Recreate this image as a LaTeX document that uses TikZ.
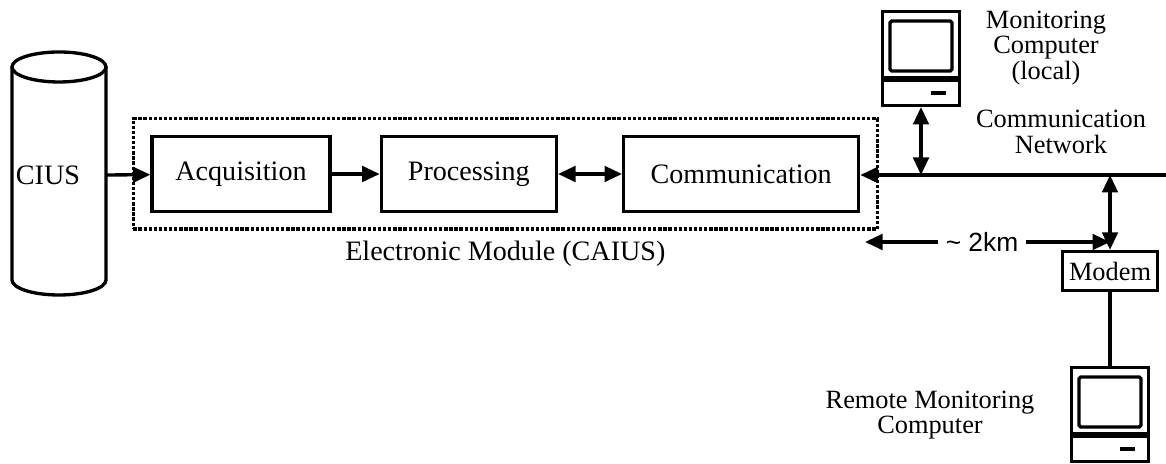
\documentclass[tikz,border=0pt]{standalone}
\usepackage{fontspec}
\setmainfont{Liberation Serif}
\setsansfont{Liberation Sans}
\usetikzlibrary{arrows.meta,positioning,fit}

% small desktop computer, origin at the bottom centre of the base
\tikzset{
  pics/computer/.style={code={
    \node[draw, minimum width=1.54cm, minimum height=0.5cm, inner sep=0pt, anchor=south] (-base) at (0,0) {};
    \draw (0.2,0.28) -- (0.5,0.28);
    \node[draw, minimum width=1.54cm, minimum height=1.32cm, inner sep=0pt, anchor=south] (-mon) at (0,0.56) {};
    \draw[rounded corners=1pt] (-0.62,0.72) rectangle (0.62,1.72);
  }}
}

\begin{document}
\begin{tikzpicture}[>={Triangle[length=3.5mm,width=3.1mm]}, line width=1.9pt,
    block/.style={draw, minimum height=1.5cm, inner sep=0pt, font=\fontsize{16}{18}\selectfont},
    lbl/.style={align=center, font=\fontsize{15}{14.5}\selectfont}]
    \useasboundingbox (0,0) rectangle (23.32,9.28);

    % --- 1. CIUS ---
    \draw (0.24,7.94) -- (0.24,3.68) arc[start angle=180, end angle=360, x radius=0.94, y radius=0.3] -- (2.12,7.94);
    \draw (1.18,7.94) ellipse [x radius=0.94, y radius=0.3];
    \node[font=\fontsize{16}{18}\selectfont] (cius) at (0.96,5.78) {CIUS};
    \coordinate (ciusout) at (2.12,5.78);

    % --- 2. Modulo electronico ---
    \node[block, minimum width=3.56cm] (acq) at (4.82,5.8) {Acquisition};
    \node[block, minimum width=3.5cm, right=0.96cm of acq] (proc) {Processing};
    \node[block, minimum width=4.7cm, right=1.28cm of proc] (comm) {Communication};
    \node[draw, densely dotted, line width=1.9pt, inner xsep=0.34cm, inner ysep=0.32cm, fit=(acq)(proc)(comm)] (module) {};
    \node[below=0.06cm of module, font=\fontsize{16}{18}\selectfont] (modlbl) {Electronic Module (CAIUS)};

    \draw[->] (ciusout) -- (acq);
    \draw[->] (acq) -- (proc);
    \draw[<->] (proc) -- (comm);

    % --- 3. Red de comunicacion ---
    \coordinate (netend) at (23.32,5.78);
    \draw[->] (netend) -- (comm.east |- netend);

    \pic (localpc) at (18.42,7.14) {computer};
    \coordinate (tapL) at (localpc-base.south |- netend);
    \draw[<->] (localpc-base) -- (tapL);
    \node[lbl] (loclbl) at (20.92,8.32) {Monitoring\\Computer\\(local)};
    \node[lbl] (netlbl) at (21.22,6.64) {Communication\\Network};

    % --- 4. Computador remoto ---
    \node[draw, minimum width=1.9cm, minimum height=0.78cm, font=\fontsize{15}{17}\selectfont] (modem) at (22.2,3.86) {Modem};
    \coordinate (tapR) at (modem.north |- netend);
    \draw[<->] (tapR) -- (modem);
    \pic (remotepc) at (22.2,0.02) {computer};
    \draw (modem) -- (remotepc-mon);
    \node[lbl] (remlbl) at (18.6,0.98) {Remote Monitoring\\Computer};

    % distancia
    \node[font=\sffamily\fontsize{15}{17}\selectfont] (dist) at (19.64,4.44) {\textasciitilde\ 2km};
    \coordinate (distL) at (17.3,4.44);
    \draw[->] (dist) -- (distL);
    \draw[->] (dist) -- (dist -| tapR);
\end{tikzpicture}
\end{document}
